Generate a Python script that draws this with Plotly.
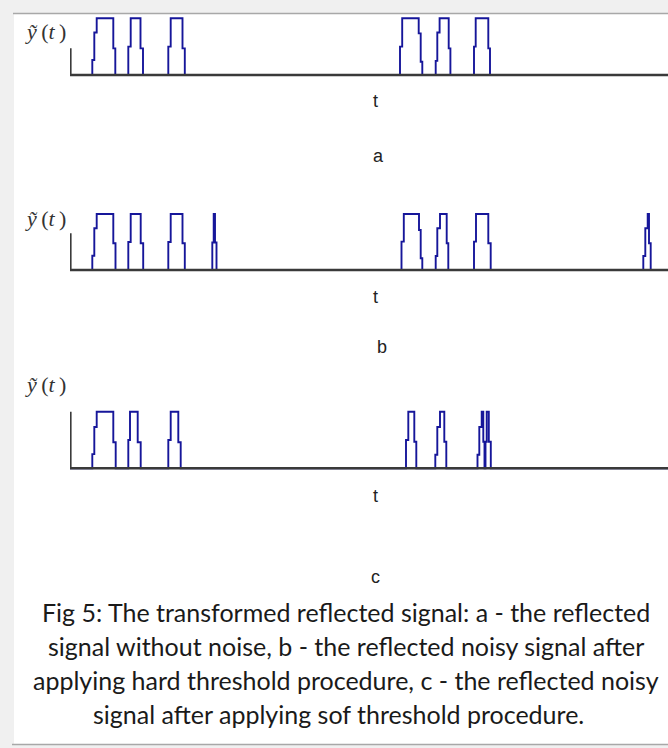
import plotly.graph_objects as go

W, H = 668, 748

# ---------------- data (t measured from the axis origin) ----------------
t_a = [0, 22.3, 24.3, 26.7, 43.3, 45.3, 58.3, 60.7, 70.5, 73.0, 98.3, 100.7, 112.5, 114.8,
       330.0, 332.2, 348.7, 350.7, 352.3, 365.7, 367.3, 369.6, 378.7, 380.4,
       404.0, 405.7, 418.3, 420.0, 598]
y_a = [0, 0.265, 0.75, 1, 0.47, 0, 0.5, 1, 0.47, 0, 0.5, 1, 0.47, 0,
       0.5, 1, 0.735, 0.235, 0, 0.25, 0.75, 1, 0.47, 0,
       0.5, 1, 0.47, 0, 0]

t_b = [0, 22.3, 24.3, 26.7, 43.3, 45.5, 58.3, 60.7, 70.7, 73.2, 98.3, 100.7, 112.5, 114.8,
       142.3, 143.7, 145.0, 146.5,
       331.5, 333.8, 349.0, 350.7, 352.3, 365.7, 367.3, 370.0, 376.7, 378.3,
       404.0, 406.0, 418.3, 420.7,
       573.3, 575.3, 577.7, 579.0, 580.7, 598]
y_b = [0, 0.255, 0.745, 1, 0.477, 0, 0.5, 1, 0.477, 0, 0.5, 1, 0.477, 0,
       0.49, 1, 0.49, 0,
       0.506, 1, 0.714, 0.21, 0, 0.25, 0.745, 1, 0.477, 0,
       0.506, 1, 0.477, 0,
       0.25, 0.745, 1, 0.477, 0, 0]

t_c = [0, 22.3, 24.3, 26.7, 43.3, 45.7, 58.3, 60.0, 67.7, 70.7, 98.3, 100.7, 108.3, 110.7,
       336.0, 338.3, 344.3, 346.3, 365.3, 367.3, 370.0, 374.3, 376.3,
       407.5, 409.3, 411.7, 413.3, 414.5, 415.5, 416.7, 418.8, 420.8, 598]
y_c = [0, 0.25, 0.73, 1, 0.46, 0, 0.5, 1, 0.46, 0, 0.5, 1, 0.46, 0,
       0.5, 1, 0.47, 0, 0.24, 0.73, 1, 0.47, 0,
       0.24, 0.73, 1, 0.47, 0, 0.47, 1, 0.47, 0, 0]

panel_letters = ["a", "b", "c"]
axis_label = "<i>ỹ</i>\u2009(<i>t</i>\u2009)"
time_label = "t"
caption_lines = [
    "Fig 5: The transformed reflected signal: a - the reflected",
    "signal without noise, b - the reflected noisy signal after",
    "applying hard threshold procedure, c - the reflected noisy",
    "signal after applying sof threshold procedure.",
]

# ---------------- layout helpers ----------------
def px(x):
    return x / W

def py(y):
    return 1 - y / H

BLUE = "#16169a"
GRAY = "#3a3a3a"

# (baseline px, top px, vertical-axis height in signal units)
panels = [(75.0, 18.3, 0.47), (270.0, 214.0, 0.655), (468.3, 411.7, 1.0)]
series = [(t_a, y_a), (t_b, y_b), (t_c, y_c)]
X0 = 70.0
XR = [0, W - X0]
YR = [-0.15, 1.15]

fig = go.Figure()
shapes = []
annotations = []

for i, ((base, top, vax), (t, y)) in enumerate(zip(panels, series)):
    n = "" if i == 0 else str(i + 1)
    unit = base - top
    lo = base + unit * (0 - YR[0])
    hi = top - unit * (YR[1] - 1)
    fig.add_trace(go.Scatter(x=t, y=y, mode="lines", line=dict(color=BLUE, width=1.9, shape="hv"),
                             xaxis="x" + n, yaxis="y" + n, hoverinfo="skip", showlegend=False))
    fig.update_layout(**{
        "xaxis" + n: dict(domain=[px(X0), 1], range=XR, visible=False, fixedrange=True),
        "yaxis" + n: dict(domain=[py(lo), py(hi)], range=YR, visible=False, fixedrange=True),
    })
    shapes.append(dict(type="line", xref="x" + n, yref="y" + n, x0=0, x1=XR[1], y0=0, y1=0,
                       line=dict(color=GRAY, width=2.6), layer="above"))
    shapes.append(dict(type="line", xref="x" + n, yref="y" + n, x0=0.6, x1=0.6, y0=0, y1=vax,
                       line=dict(color=GRAY, width=2), layer="above"))

# frame of the figure image
shapes += [
    dict(type="rect", xref="paper", yref="paper", x0=0, x1=px(14), y0=0, y1=1,
         fillcolor="#f0f0f0", line=dict(width=0), layer="below"),
    dict(type="rect", xref="paper", yref="paper", x0=0, x1=1, y0=py(13), y1=1,
         fillcolor="#f0f0f0", line=dict(width=0), layer="below"),
    dict(type="rect", xref="paper", yref="paper", x0=0, x1=1, y0=0, y1=py(745),
         fillcolor="#f0f0f0", line=dict(width=0), layer="below"),
    dict(type="line", xref="paper", yref="paper", x0=px(13), x1=1, y0=py(13.5), y1=py(13.5),
         line=dict(color="#a8a8a8", width=1.5)),
    dict(type="line", xref="paper", yref="paper", x0=px(12), x1=1, y0=py(744.5), y1=py(744.5),
         line=dict(color="#a8a8a8", width=1.5)),
]

for yc in [32, 218, 384]:
    annotations.append(dict(text=axis_label, xref="paper", yref="paper", x=px(45), y=py(yc),
                            showarrow=False, xanchor="center", yanchor="middle",
                            font=dict(family="Liberation Serif", size=22, color="#333333")))
for yc in [101, 297, 496]:
    annotations.append(dict(text=time_label, xref="paper", yref="paper", x=px(375), y=py(yc),
                            showarrow=False, xanchor="center", yanchor="middle",
                            font=dict(family="Liberation Sans", size=18, color="#222222")))
for letter, (xc, yc) in zip(panel_letters, [(378, 156), (382, 347), (375, 577)]):
    annotations.append(dict(text=letter, xref="paper", yref="paper", x=px(xc), y=py(yc),
                            showarrow=False, xanchor="center", yanchor="middle",
                            font=dict(family="Liberation Sans", size=18, color="#222222")))
for line, (xc, yc) in zip(caption_lines, [(346, 612), (346, 646), (346, 680), (338, 714)]):
    annotations.append(dict(text=line, xref="paper", yref="paper", x=px(xc), y=py(yc),
                            showarrow=False, xanchor="center", yanchor="middle",
                            font=dict(family="Lato", size=25, color="#1a1a1a")))

fig.update_layout(width=W, height=H, margin=dict(l=0, r=0, t=0, b=0),
                  paper_bgcolor="white", plot_bgcolor="rgba(0,0,0,0)",
                  shapes=shapes, annotations=annotations, showlegend=False)

fig.write_html("out.html", config={"displayModeBar": False})
